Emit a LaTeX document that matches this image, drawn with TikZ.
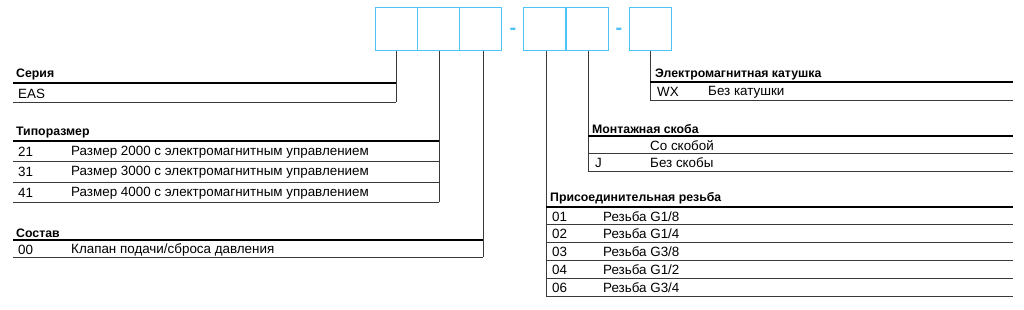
\documentclass[tikz,border=0pt]{standalone}
\usepackage{fontspec}
\setmainfont{Liberation Sans}
\definecolor{boxblue}{HTML}{4FC3F7}
\definecolor{rulegray}{HTML}{3A3A3A}
\tikzset{
  cell/.style={draw=boxblue, line width=1pt, minimum width=42pt, minimum height=43pt, inner sep=0pt},
  lead/.style={draw=rulegray, line width=0.9pt},
  head/.style={draw=black, line width=2.4pt},
  title/.style={anchor=west, inner sep=0pt, yshift=-1pt, font=\fontsize{12.3}{14}\selectfont\bfseries},
  entry/.style={anchor=west, inner sep=0pt, yshift=-1pt},
  sep/.style={text=boxblue, inner sep=0pt, font=\fontsize{20}{20}\selectfont\bfseries},
}
\begin{document}
\begin{tikzpicture}[x=1pt, y=-1pt, font=\fontsize{13.4}{15}\selectfont]
  \useasboundingbox (0,0) rectangle (1024,310);
  % code boxes
  \foreach \name/\cx in {b1/396.5, b2/438.5, b3/480.5, b4/544.5, b5/587, b6/650.5}
    \node[cell] (\name) at (\cx,29.5) {};
  \node[sep] (d1) at (513,31) {-};
  \node[sep] (d2) at (619,31) {-};
  % table corners
  \coordinate (k1) at (396,102);
  \coordinate (k2) at (439,202);
  \coordinate (k3) at (483,257);
  \coordinate (k4) at (546,296);
  \coordinate (k5) at (588,171);
  \coordinate (k6) at (650,100);
  \foreach \k/\b in {k1/b1, k2/b2, k3/b3, k4/b4, k5/b5, k6/b6}
    \draw[lead] (\b.south -| \k) -- (\k);
  % Серия
  \node[title] (ser) at (16,73) {Серия};
  \draw[head] (13,83) -- (396,83);
  \node[entry] (eas) at (18,93) {EAS};
  \draw[lead] (13,102) -- (k1);
  % Типоразмер
  \node[title] (tip) at (16,132) {Типоразмер};
  \draw[head] (13,141) -- (439,141);
  \foreach \y/\code/\txt in {151/21/Размер 2000 с электромагнитным управлением,
      171/31/Размер 3000 с электромагнитным управлением,
      192/41/Размер 4000 с электромагнитным управлением} {
    \node[entry] (t\code) at (18,\y) {\code};
    \node[entry] (d\code) at (71,\y) {\txt};
  }
  \foreach \y in {161,182,202}
    \draw[lead] (13,\y) -- (439,\y);
  % Состав
  \node[title] (sos) at (16,232) {Состав};
  \draw[head] (13,240) -- (483,240);
  \node[entry] (s00) at (18,249) {00};
  \node[entry] (ds00) at (71,249) {Клапан подачи/сброса давления};
  \draw[lead] (13,257) -- (k3);
  % Электромагнитная катушка
  \node[title] (kat) at (655,73) {Электромагнитная катушка};
  \draw[head] (650,82) -- (1013,82);
  \node[entry] (wx) at (657,91) {WX};
  \node[entry] (dwx) at (708,91) {Без катушки};
  \draw[lead] (k6) -- (1013,100);
  % Монтажная скоба
  \node[title] (sko) at (592,128) {Монтажная скоба};
  \draw[head] (588,136) -- (1013,136);
  \node[entry] (dso) at (650,145) {Со скобой};
  \node[entry] (j) at (595,162) {J};
  \node[entry] (dj) at (650,162) {Без скобы};
  \foreach \y in {153,171}
    \draw[lead] (588,\y) -- (1013,\y);
  % Присоединительная резьба
  \node[title] (rez) at (550,197) {Присоединительная резьба};
  \draw[head] (546,207) -- (1013,207);
  \foreach \y/\code/\txt in {215.5/01/G1\slash 8, 233/02/G1\slash 4, 251/03/G3\slash 8,
      269/04/G1\slash 2, 287/06/G3\slash 4} {
    \node[entry] (r\code) at (552,\y) {\code};
    \node[entry] (dr\code) at (603,\y) {Резьба \txt};
  }
  \foreach \y in {224,242,260,278,296}
    \draw[lead] (546,\y) -- (1013,\y);
\end{tikzpicture}
\end{document}
